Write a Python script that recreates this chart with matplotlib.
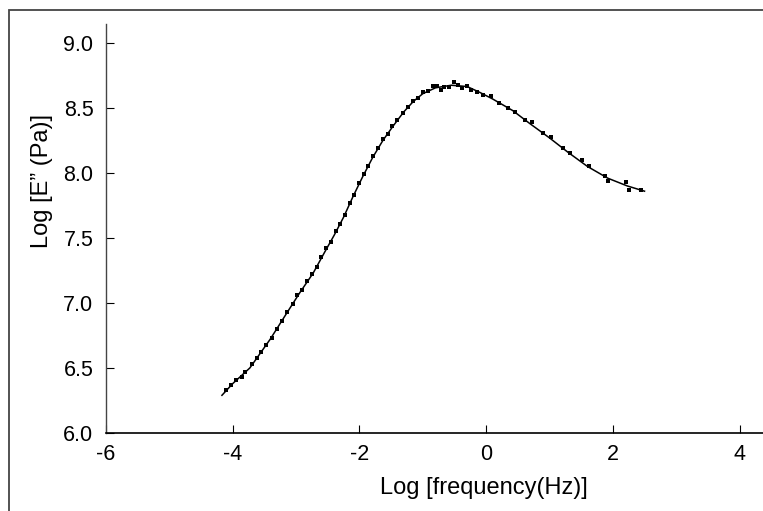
import matplotlib
matplotlib.use("Agg")
import matplotlib.pyplot as plt
from matplotlib.patches import Rectangle

plt.rcParams['font.family'] = ['Liberation Sans', 'DejaVu Sans']

# fitted curve
curve_x = [-4.17, -4.00, -3.73, -3.41, -3.15, -2.94, -2.73, -2.55, -2.40, -2.25,
           -2.10, -1.95, -1.79, -1.63, -1.47, -1.30, -1.15, -1.00, -0.80, -0.55,
           -0.30, -0.10, 0.10, 0.42, 0.69, 1.00, 1.29, 1.60, 1.92, 2.23, 2.50]
curve_y = [6.29, 6.38, 6.50, 6.72, 6.92, 7.08, 7.23, 7.39, 7.52, 7.66,
           7.82, 7.97, 8.12, 8.25, 8.36, 8.47, 8.55, 8.61, 8.655, 8.675,
           8.665, 8.62, 8.57, 8.48, 8.38, 8.27, 8.16, 8.05, 7.96, 7.90, 7.86]

pts_x = [-4.10, -4.02, -3.95, -3.86, -3.80, -3.70, -3.62, -3.55, -3.47, -3.38,
         -3.30, -3.22, -3.14, -3.05, -2.98, -2.90, -2.83, -2.75, -2.67, -2.60,
         -2.52, -2.45, -2.37, -2.30, -2.22, -2.15, -2.08, -2.00, -1.93, -1.86,
         -1.78, -1.70, -1.62, -1.55, -1.48, -1.40, -1.32, -1.24, -1.16, -1.08,
         -1.00, -0.92, -0.84, -0.78, -0.72, -0.66, -0.58, -0.50, -0.45, -0.38,
         -0.30, -0.24, -0.15, -0.05, 0.08, 0.20, 0.35, 0.45, 0.62, 0.72,
         0.90, 1.02, 1.22, 1.32, 1.52, 1.62, 1.88, 1.92, 2.20, 2.25, 2.45]
pts_y = [6.33, 6.37, 6.41, 6.43, 6.47, 6.53, 6.58, 6.62, 6.68, 6.73,
         6.80, 6.86, 6.93, 6.99, 7.06, 7.10, 7.17, 7.22, 7.28, 7.35,
         7.42, 7.47, 7.55, 7.61, 7.68, 7.77, 7.83, 7.92, 7.99, 8.05,
         8.13, 8.19, 8.26, 8.30, 8.36, 8.41, 8.46, 8.51, 8.55, 8.58,
         8.62, 8.63, 8.67, 8.67, 8.64, 8.66, 8.66, 8.70, 8.68, 8.65,
         8.67, 8.64, 8.62, 8.60, 8.59, 8.54, 8.50, 8.47, 8.41, 8.39,
         8.31, 8.28, 8.19, 8.15, 8.10, 8.05, 7.98, 7.94, 7.93, 7.87, 7.87]

x_ticks = [-6, -4, -2, 0, 2, 4]
y_ticks = [6.0, 6.5, 7.0, 7.5, 8.0, 8.5, 9.0]

fig = plt.figure(figsize=(7.63, 5.11), dpi=100)
ax = fig.add_axes([106/763, 78/511, 657/763, 409/511])

ax.plot(curve_x, curve_y, color='black', lw=1.1, zorder=2)
ax.scatter(pts_x, pts_y, s=5, color='black', marker='s', linewidths=0, zorder=3)

ax.set_xlim(-6, 4.37)
ax.set_ylim(6.0, 9.146)
ax.set_xticks(x_ticks)
ax.set_xticklabels([str(v) for v in x_ticks])
ax.set_yticks(y_ticks)
ax.set_yticklabels([f"{v:.1f}" for v in y_ticks])

for s in ['top', 'right']:
    ax.spines[s].set_visible(False)
ax.spines['left'].set_color('#444444')
ax.spines['bottom'].set_color('black')
ax.spines['left'].set_linewidth(1.0)
ax.spines['bottom'].set_linewidth(1.2)
ax.tick_params(direction='in', length=6, width=0.8, labelsize=15.5, pad=8, colors='black')
ax.tick_params(axis='y', pad=9)

ax.set_xlabel("Log [frequency(Hz)]", fontsize=17)
ax.set_ylabel("Log [E\u201d (Pa)]", fontsize=17)
ax.xaxis.set_label_coords(0.575, -0.108)
ax.yaxis.set_label_coords(-0.081, 0.616)

fig.patches.append(Rectangle((9/763, -0.05), 1.1, (511-10)/511 + 0.05,
                             transform=fig.transFigure, fill=False,
                             edgecolor='#444444', lw=1.3))

fig.savefig("out.png", dpi=100)
